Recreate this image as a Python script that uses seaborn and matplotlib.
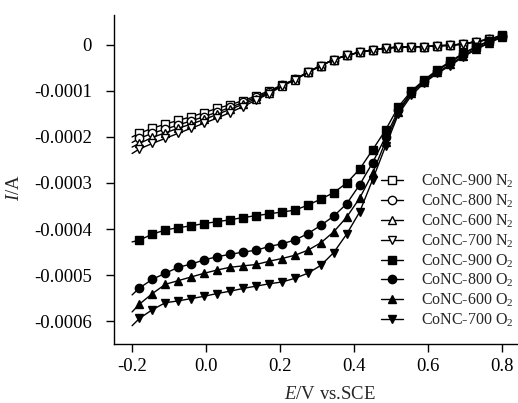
import numpy as np
import pandas as pd
import seaborn as sns
import matplotlib
matplotlib.use('Agg')
import matplotlib.pyplot as plt

# potential (V vs. SCE); first point has no marker
E = [-0.20, -0.18, -0.145, -0.11, -0.075, -0.04, -0.005, 0.03, 0.065, 0.10,
     0.135, 0.17, 0.205, 0.24, 0.275, 0.31, 0.345, 0.38, 0.415, 0.45,
     0.485, 0.52, 0.555, 0.59, 0.625, 0.66, 0.695, 0.73, 0.765, 0.80]

# currents, in units of 1e-4 A
i_900_n2 = [-2.00, -1.92, -1.81, -1.72, -1.64, -1.56, -1.47, -1.38, -1.30, -1.21,
            -1.11, -1.00, -0.87, -0.75, -0.59, -0.45, -0.32, -0.23, -0.16, -0.11,
            -0.07, -0.05, -0.04, -0.04, -0.02, -0.01, 0.02, 0.07, 0.12, 0.20]
i_800_n2 = [-2.12, -2.03, -1.92, -1.83, -1.74, -1.65, -1.56, -1.46, -1.36, -1.25,
            -1.14, -1.02, -0.88, -0.75, -0.59, -0.45, -0.32, -0.23, -0.16, -0.11,
            -0.07, -0.05, -0.04, -0.04, -0.02, -0.01, 0.02, 0.07, 0.12, 0.20]
i_600_n2 = [-2.22, -2.14, -2.01, -1.91, -1.81, -1.72, -1.62, -1.51, -1.40, -1.29,
            -1.17, -1.04, -0.89, -0.76, -0.60, -0.45, -0.32, -0.23, -0.16, -0.11,
            -0.07, -0.05, -0.04, -0.04, -0.02, -0.01, 0.02, 0.07, 0.12, 0.20]
i_700_n2 = [-2.36, -2.26, -2.14, -2.03, -1.92, -1.81, -1.70, -1.59, -1.47, -1.34,
            -1.20, -1.06, -0.90, -0.76, -0.60, -0.46, -0.32, -0.23, -0.16, -0.11,
            -0.07, -0.05, -0.04, -0.04, -0.02, -0.01, 0.02, 0.07, 0.12, 0.20]
i_900_o2 = [-4.28, -4.24, -4.11, -4.02, -3.97, -3.93, -3.88, -3.84, -3.80, -3.75,
            -3.71, -3.67, -3.63, -3.59, -3.48, -3.35, -3.21, -3.00, -2.70, -2.28,
            -1.85, -1.34, -1.00, -0.76, -0.54, -0.36, -0.18, -0.04, 0.09, 0.22]
i_800_o2 = [-5.43, -5.28, -5.09, -4.96, -4.83, -4.76, -4.67, -4.60, -4.55, -4.50,
            -4.46, -4.38, -4.32, -4.24, -4.10, -3.92, -3.72, -3.45, -3.04, -2.56,
            -2.00, -1.42, -1.02, -0.78, -0.56, -0.38, -0.20, -0.05, 0.08, 0.20]
i_600_o2 = [-5.80, -5.63, -5.40, -5.20, -5.12, -5.04, -4.96, -4.89, -4.83, -4.80,
            -4.77, -4.70, -4.64, -4.57, -4.46, -4.30, -4.06, -3.74, -3.33, -2.79,
            -2.10, -1.46, -1.05, -0.80, -0.60, -0.42, -0.24, -0.08, 0.05, 0.18]
i_700_o2 = [-6.10, -5.94, -5.75, -5.60, -5.56, -5.51, -5.46, -5.40, -5.35, -5.29,
            -5.24, -5.19, -5.15, -5.07, -4.96, -4.79, -4.51, -4.11, -3.63, -2.93,
            -2.20, -1.50, -1.10, -0.82, -0.62, -0.45, -0.26, -0.10, 0.04, 0.17]

labels = ['CoNC-900 N$_2$', 'CoNC-800 N$_2$', 'CoNC-600 N$_2$', 'CoNC-700 N$_2$',
          'CoNC-900 O$_2$', 'CoNC-800 O$_2$', 'CoNC-600 O$_2$', 'CoNC-700 O$_2$']
series = [i_900_n2, i_800_n2, i_600_n2, i_700_n2,
          i_900_o2, i_800_o2, i_600_o2, i_700_o2]
markers = ['s', 'o', '^', 'v', 's', 'o', '^', 'v']
filled = [False, False, False, False, True, True, True, True]

sns.set_style('ticks')
plt.rcParams['font.family'] = ['Liberation Serif', 'DejaVu Serif']
plt.rcParams['mathtext.fontset'] = 'custom'
plt.rcParams['mathtext.rm'] = 'Liberation Serif'
plt.rcParams['mathtext.it'] = 'Liberation Serif:italic'

fig = plt.figure(figsize=(5.18, 4.03), dpi=100)
ax = fig.add_axes([0.220, 0.146, 0.780, 0.817])

for lab, cur, m, f in zip(labels, series, markers, filled):
    df = pd.DataFrame({'E': E, 'I': np.array(cur) * 1e-4})
    sns.lineplot(data=df, x='E', y='I', ax=ax, sort=False, color='black',
                 linewidth=1.0, marker=m, markersize=6, markeredgewidth=1.0,
                 markeredgecolor='black',
                 markerfacecolor='black' if f else 'white',
                 markevery=slice(1, None), label=lab)

ax.set_xlim(-0.249, 0.843)
ax.set_ylim(-0.00065, 0.000065)
ax.set_xticks([-0.2, 0.0, 0.2, 0.4, 0.6, 0.8])
ax.set_xticklabels(['-0.2', '0.0', '0.2', '0.4', '0.6', '0.8'])
ax.set_yticks([0, -0.0001, -0.0002, -0.0003, -0.0004, -0.0005, -0.0006])
ax.set_yticklabels(['0', '-0.0001', '-0.0002', '-0.0003', '-0.0004', '-0.0005', '-0.0006'])
ax.tick_params(axis='both', direction='out', length=6, width=1.0, labelsize=13.5,
               color='black', labelcolor='black')
ax.tick_params(axis='y', pad=10)
ax.tick_params(axis='x', pad=4)
sns.despine(ax=ax)
for s in ['left', 'bottom']:
    ax.spines[s].set_linewidth(1.0)
    ax.spines[s].set_color('black')

ax.set_xlabel('$E$/V vs.SCE', fontsize=13.5)
ax.set_ylabel('$I$/A', fontsize=13.5)
ax.xaxis.set_label_coords(0.535, -0.128)
ax.yaxis.set_label_coords(-0.225, 0.477)

ax.legend(loc='upper left', bbox_to_anchor=(0.66, 0.52), frameon=False,
          fontsize=11.5, handlelength=1.4, handletextpad=1.1,
          labelspacing=0.15, borderpad=0, borderaxespad=0)

fig.savefig('out.png', dpi=100)
